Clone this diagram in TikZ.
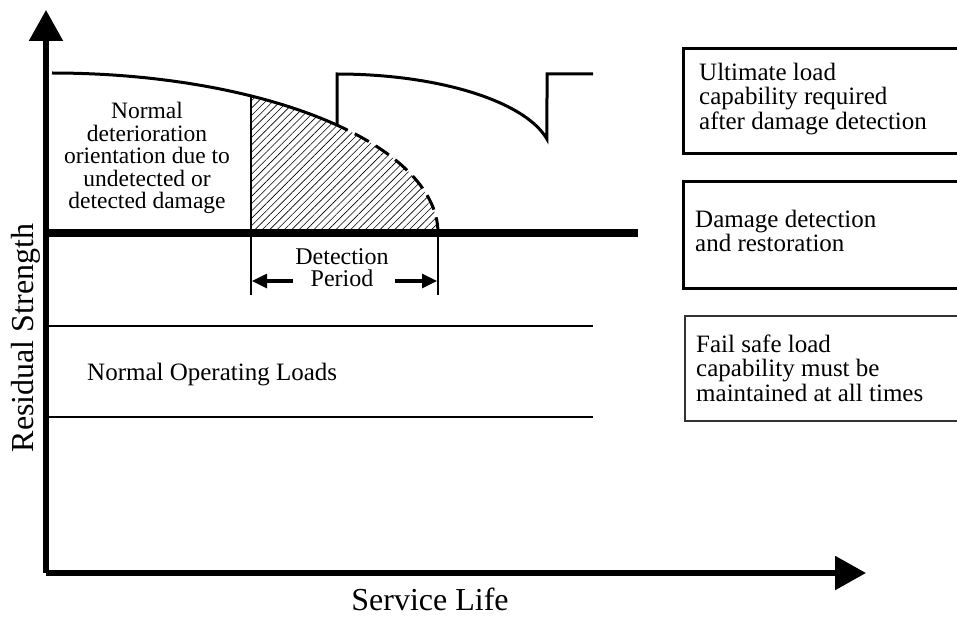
\documentclass[tikz,border=0pt]{standalone}
\usepackage{fontspec}
\setmainfont{Liberation Serif}
\usetikzlibrary{arrows.meta,patterns.meta}
\begin{document}
\begin{tikzpicture}[x=1pt,y=-1pt,
  axis/.style={line width=5.5pt},
  thickline/.style={line width=8pt},
  curve/.style={line width=3pt},
  thin/.style={line width=2.6pt},
  dimarrow/.style={line width=3pt,-{Triangle[length=15pt,width=14pt]}},
  bigtip/.style={-{Triangle[length=31pt,width=33pt]}},
  lbl/.style={inner sep=0pt,font=\fontsize{23.5}{22.4}\selectfont},
  boxtxt/.style={inner sep=0pt,align=left,anchor=west,font=\fontsize{25}{24.5}\selectfont},
  infobox/.style={line width=3pt},
  infoboxthin/.style={line width=1.5pt,draw=black!80},
  axlabel/.style={inner sep=0pt,font=\fontsize{32}{32}\selectfont}]
\clip (0,0) rectangle (957,617);
\fill[white] (0,0) rectangle (957,617);
% named points
\coordinate (O) at (46,573);
\coordinate (Ytip) at (46,10);
\coordinate (Xtip) at (866,573);
\coordinate (Tl) at (46,233);
\coordinate (Tr) at (638,233);
\coordinate (Al) at (46,326);
\coordinate (Ar) at (593,326);
\coordinate (Bl) at (46,417);
\coordinate (Br) at (593,417);
\coordinate (D1t) at (251,96);
\coordinate (D1b) at (251,295);
\coordinate (D2t) at (438,233);
\coordinate (D2b) at (438,295);
\coordinate (L1s) at (293,281);
\coordinate (L1e) at (252,281);
\coordinate (L2s) at (395,281);
\coordinate (L2e) at (437,281);
% hatched region
\fill[pattern={Lines[angle=45,distance=5.2pt,line width=0.6pt]}]
  (251,233) -- plot[domain=58.97:0,samples=50] ({52+386*cos(\x)},{233-160*sin(\x)}) -- cycle;
% first deterioration curve
\draw[curve] plot[domain=90:40,samples=50] ({52+386*cos(\x)},{233-160*sin(\x)});
\draw[curve,dash pattern=on 16pt off 8pt,dash phase=16pt]
  plot[domain=40:0,samples=50] ({52+386*cos(\x)},{233-160*sin(\x)});
% restored curve
\draw[curve] (337,125) -- (337,74) -- plot[domain=90:12.4,samples=50] ({337+215*cos(\x)},{157-83*sin(\x)}) -- (547,74) -- (593,74);
% level lines
\draw[thickline] (Tl) -- (Tr);
\draw[thin] (Al) -- (Ar);
\draw[thin] (Bl) -- (Br);
% detection period
\draw[thin] (D1t) -- (D1b);
\draw[thin] (D2t) -- (D2b);
\draw[dimarrow] (L1s) -- (L1e);
\draw[dimarrow] (L2s) -- (L2e);
% axes
\draw[axis,bigtip] (O) -- (Ytip);
\draw[axis,bigtip] (O) -- (Xtip);
% texts
\node[lbl,align=center] (det) at (147,158) {Normal\\deterioration\\orientation due to\\undetected or\\detected damage};
\node[lbl,align=center,font=\fontsize{24}{22}\selectfont] (per) at (342,268) {Detection\\Period};
\node[lbl,font=\fontsize{25}{25}\selectfont,anchor=base west] (nol) at (87,380) {Normal Operating Loads};
\node[axlabel,rotate=90,anchor=base] (ylab) at (33,338) {Residual Strength};
\node[axlabel,anchor=base] (xlab) at (430,610) {Service Life};
% right boxes
\draw[infobox] (683,49) rectangle (962,154);
\draw[infobox] (683,182) rectangle (962,288);
\draw[infoboxthin] (685,316) rectangle (962,421);
\node[boxtxt] (b1) at (699,99) {Ultimate load\\capability required\\after damage detection};
\node[boxtxt] (b2) at (695,231) {Damage detection\\and restoration};
\node[boxtxt] (b3) at (696,368) {Fail safe load\\capability must be\\maintained at all times};
\end{tikzpicture}
\end{document}
